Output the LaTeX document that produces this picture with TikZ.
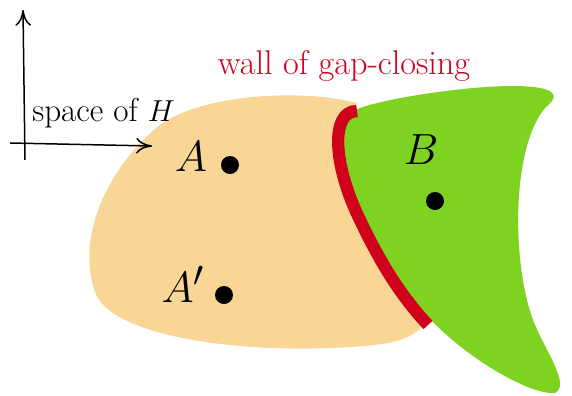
\documentclass[tikz,border=0pt]{standalone}
\usepackage{amsmath,amssymb}
\usepackage{xcolor}
\usepackage{tikz}
\usetikzlibrary{arrows.meta,positioning}

\definecolor{regionA}{RGB}{249,213,150}
\definecolor{regionB}{RGB}{126,211,33}
\definecolor{wallred}{RGB}{208,2,27}

\begin{document}
\begin{tikzpicture}[x=0.02cm,y=-0.02cm,>={To[length=9pt,width=9pt]}]
    \useasboundingbox (0,0) rectangle (572,396);
    % region of A
    \fill[regionA] (357,103) .. controls (300,88) and (200,95) .. (160,125)
      .. controls (110,165) and (75,235) .. (95,292)
      .. controls (110,335) and (230,352) .. (330,348)
      .. controls (390,346) and (415,340) .. (425,322)
      -- (380,250) -- (345,150) -- cycle;
    % region of B
    \fill[regionB] (355,110) .. controls (380,98) and (500,80) .. (540,88)
      .. controls (560,92) and (555,100) .. (545,108)
      .. controls (510,150) and (512,270) .. (535,325)
      .. controls (548,355) and (570,385) .. (555,393)
      .. controls (530,395) and (470,360) .. (433,322)
      .. controls (395,285) and (355,215) .. (346,160)
      .. controls (342,135) and (345,115) .. (355,110) -- cycle;
    % wall
    \draw[wallred,line width=7pt] (357,111) .. controls (330,111) and (333,165) .. (360,220)
      .. controls (380,262) and (400,295) .. (428,325);
    \node[wallred,font=\fontsize{19.5}{23}\selectfont] (wall) at (344,66) {wall of gap-closing};
    % axes
    \coordinate (o) at (25,160);
    \coordinate (yend) at (23,10);
    \coordinate (xbeg) at (10,143);
    \coordinate (xend) at (152,146);
    \draw[->,line width=0.85pt] (o) -- (yend);
    \draw[->,line width=0.85pt] (xbeg) -- (xend);
    \node[font=\fontsize{18.9}{22}\selectfont,anchor=base west,inner sep=0pt] (space) at (32,121) {space of $H$};
    % points
    \fill (230,165) circle (9);
    \fill (224,295) circle (9);
    \fill (435,201) circle (9);
    \node[font=\Huge] (A) at (191,157) {$A$};
    \node[font=\Huge] (Ap) at (183,284) {$A'$};
    \node[font=\Huge] (B) at (421,150) {$B$};
\end{tikzpicture}
\end{document}
